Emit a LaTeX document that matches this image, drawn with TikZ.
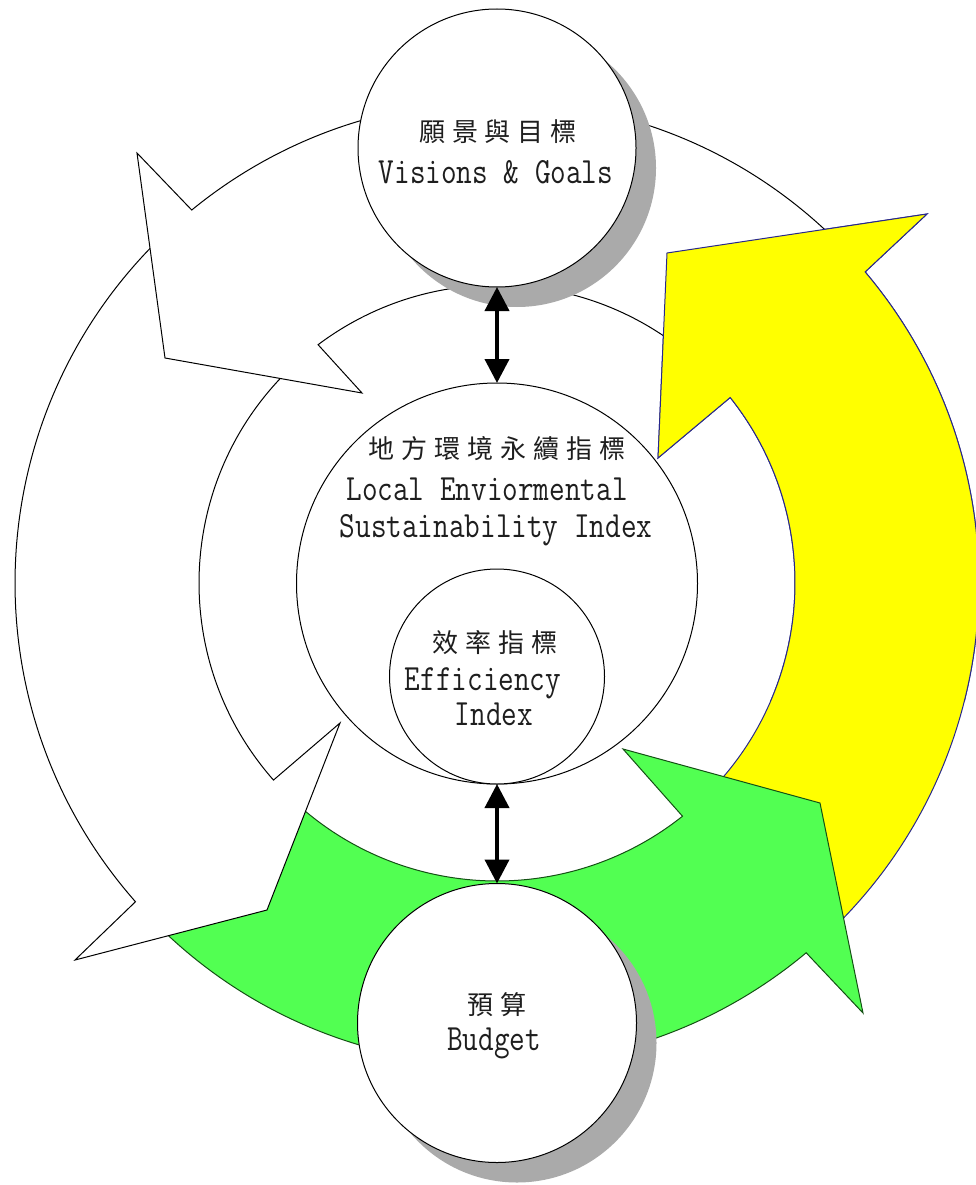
\documentclass[tikz,border=0pt]{standalone}
\usepackage{fontspec}
\usepackage{graphicx}
\usetikzlibrary{arrows.meta,shadows,calc}
\newfontfamily\cjkf{Noto Sans CJK TC}
\definecolor{ringgreen}{RGB}{82,255,82}
\definecolor{greenline}{RGB}{20,80,20}
\definecolor{ringyellow}{RGB}{255,255,0}
\definecolor{yellowline}{RGB}{40,40,140}
\definecolor{shadowc}{RGB}{170,170,170}
\definecolor{txt}{RGB}{30,30,30}
\newcommand\cjsp{\hspace{7pt}}
\newcommand\en[1]{\scalebox{0.82}[1]{#1}}
\begin{document}
\begin{tikzpicture}[x=1pt,y=-1pt,
  whitearrow/.style={draw=black, line width=1pt, fill=white, line join=miter},
  greenarrow/.style={draw=greenline, line width=1pt, fill=ringgreen, line join=miter},
  yellowarrow/.style={draw=yellowline, line width=1pt, fill=ringyellow, line join=miter},
  bubble/.style={circle, draw=black, line width=1pt, fill=white, inner sep=0pt, outer sep=0pt},
  shadowed/.style={drop shadow={shadow xshift=20pt, shadow yshift=-20pt, fill=shadowc, opacity=1}},
  dbl/.style={line width=4pt, {Triangle[width=24pt,length=24pt]}-{Triangle[width=24pt,length=24pt]}},
  zh/.style={inner sep=0pt, text=txt, font={\fontsize{26pt}{26pt}\selectfont\cjkf}},
  lat/.style={inner sep=0pt, text=txt, anchor=base, font={\fontsize{37pt}{37pt}\selectfont\ttfamily}}]
\useasboundingbox (0,0) rectangle (975,1185);

\begin{scope}[shift={(497,583)}, yscale=-1]
  % yellow
  \path[yellowarrow] (-46:298) -- (-46:482) arc[start angle=-46, end angle=40.2, radius=482]
     -- (430,369) -- (170,330) -- (161,125) -- (38.5:298)
     arc[start angle=38.5, end angle=-46, radius=298] -- cycle;
  % green
  \path[greenarrow] (226:298) -- (226:482) arc[start angle=226, end angle=309.9, radius=482]
     -- (366,-430) -- (323,-220) -- (126,-166) -- (308.5:298)
     arc[start angle=308.5, end angle=226, radius=298] -- cycle;
  % white lower-left
  \path[whitearrow] (133:298) -- (133:482) arc[start angle=133, end angle=221.4, radius=482]
     -- (-422,-377) -- (-230,-327) -- (-157,-140) -- (221.4:298)
     arc[start angle=221.4, end angle=133, radius=298] -- cycle;
  % white upper
  \path[whitearrow] (45:298) -- (45:482) arc[start angle=45, end angle=129.3, radius=482]
     -- (-360,430) -- (-332,225) -- (-135,190) -- (126.9:298)
     arc[start angle=126.9, end angle=45, radius=298] -- cycle;
  % yellow head again over the start of the upper white arrow
  \begin{scope}
    \clip (-600,-117) rectangle (600,700);
    \path[yellowarrow] (-46:298) -- (-46:482) arc[start angle=-46, end angle=40.2, radius=482]
       -- (430,369) -- (170,330) -- (161,125) -- (38.5:298)
       arc[start angle=38.5, end angle=-46, radius=298] -- cycle;
  \end{scope}
\end{scope}

\node[bubble, shadowed, minimum size=278pt] (vis) at (497,148) {};
\node[bubble, minimum size=401pt] (les) at (497,583.5) {};
\node[bubble, minimum size=215pt] (eff) at (497,676.5) {};
\node[bubble, shadowed, minimum size=279pt] (bud) at (497,1023) {};

\draw[dbl] (vis.south) -- (les.north);
\draw[dbl] (eff.south) -- (bud.north);

\node[zh] (visZh) at (498,132) {願\cjsp 景\cjsp 與\cjsp 目\cjsp 標};
\node[lat] (visEn) at (496,183) {\en{Visions \& Goals}};
\node[zh] (lesZh) at (497,449) {地\cjsp 方\cjsp 環\cjsp 境\cjsp 永\cjsp 續\cjsp 指\cjsp 標};
\node[lat] (lesEn1) at (487,500) {\en{Local Enviormental}};
\node[lat] (lesEn2) at (496,537) {\en{Sustainability Index}};
\node[zh] (effZh) at (495,643) {效\cjsp 率\cjsp 指\cjsp 標};
\node[lat] (effEn1) at (483,690) {\en{Efficiency}};
\node[lat] (effEn2) at (494,725) {\en{Index}};
\node[zh] (budZh) at (497,1005) {預\cjsp 算};
\node[lat] (budEn) at (494,1050) {\en{Budget}};
\end{tikzpicture}
\end{document}
